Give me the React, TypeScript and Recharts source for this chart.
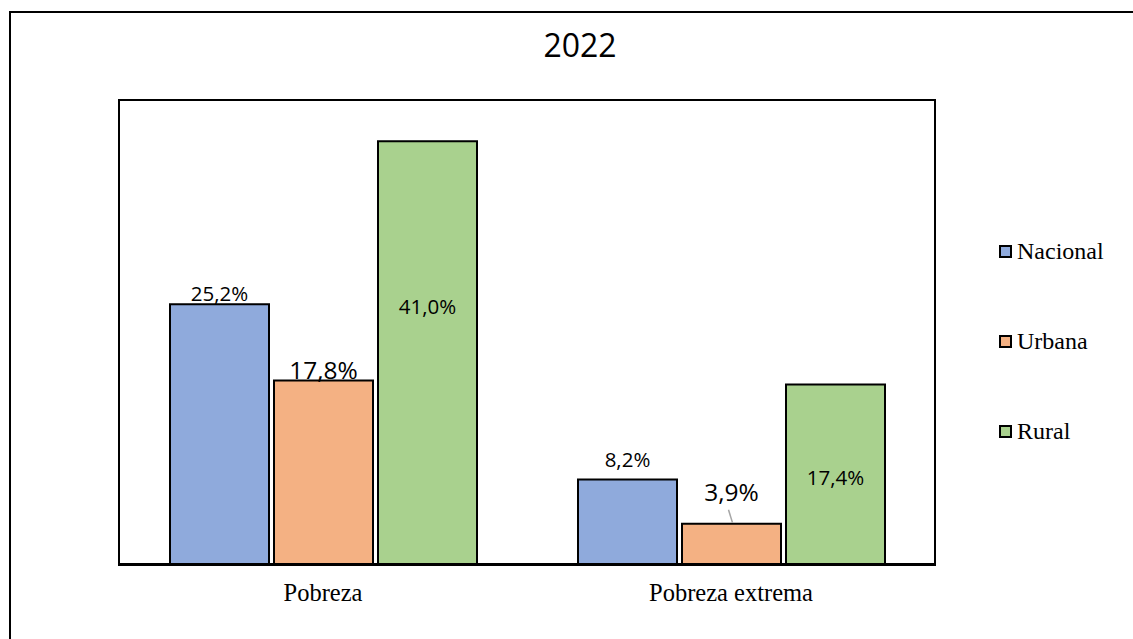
import { BarChart, Bar, XAxis, YAxis, LabelList } from "recharts";

// categories and series values (%)
const categories = ["Pobreza", "Pobreza extrema"];
const nacional = [25.2, 8.2];
const urbana = [17.8, 3.9];
const rural = [41.0, 17.4];

const rows = categories.map((name, i) => ({
  name,
  Nacional: nacional[i],
  Urbana: urbana[i],
  Rural: rural[i],
}));

const series = [
  { key: "Nacional", color: "#8faadc" },
  { key: "Urbana", color: "#f4b183" },
  { key: "Rural", color: "#a9d18e" },
];

const fmt = (v: number) => v.toFixed(1).replace(".", ",") + "%";

// label placement (centre of text relative to bar top) per series / category
const labelDy: Record<string, number[]> = {
  Nacional: [-11, -20],
  Urbana: [-11, -32],
  Rural: [165, 92],
};
const labelSize: Record<string, number> = { Nacional: 20.5, Urbana: 24.5, Rural: 20.5 };

const makeLabel = (key: string) => (props: any) => {
  const { x, y, width, value, index } = props;
  const cx = Number(x) + Number(width) / 2;
  const top = Number(y);
  const cy = top + labelDy[key][index];
  return (
    <g>
      {key === "Urbana" && index === 1 && (
        <line x1={cx - 3} y1={top - 14} x2={cx + 1} y2={top - 1} stroke="#a6a6a6" strokeWidth={1.5} />
      )}
      <text
        x={cx}
        y={cy}
        textAnchor="middle"
        dominantBaseline="central"
        fontFamily="'Open Sans', sans-serif"
        fontSize={labelSize[key]}
        fill="#000"
      >
        {fmt(Number(value))}
      </text>
    </g>
  );
};

const CategoryTick = (props: any) => {
  const { x, y, payload } = props;
  return (
    <text
      x={x}
      y={y + 20}
      textAnchor="middle"
      dominantBaseline="central"
      fontFamily="'Liberation Serif', serif"
      fontSize={24.5}
      fill="#000"
    >
      {payload.value}
    </text>
  );
};

const LegendBox = () => (
  <div
    style={{
      position: "absolute",
      left: 999,
      top: 206,
      width: 134,
      fontFamily: "'Liberation Serif', serif",
      fontSize: 24,
      color: "#000",
    }}
  >
    {series.map((s) => (
      <div key={s.key} style={{ display: "flex", alignItems: "center", height: 90 }}>
        <span
          style={{
            display: "inline-block",
            width: 13,
            height: 13,
            boxSizing: "border-box",
            border: "2px solid #000",
            background: s.color,
            marginRight: 5,
          }}
        />
        <span>{s.key}</span>
      </div>
    ))}
  </div>
);

export default function App() {
  return (
    <div
      style={{
        position: "absolute",
        left: 0,
        top: 0,
        width: 1133,
        height: 639,
        overflow: "hidden",
        background: "#fff",
      }}
    >
      <div
        style={{
          position: "absolute",
          left: 9,
          top: 11,
          width: 2000,
          height: 2000,
          borderLeft: "2px solid #000",
          borderTop: "2px solid #000",
        }}
      />
      <div
        style={{
          position: "absolute",
          left: 0,
          top: 45,
          width: 1160,
          textAlign: "center",
          fontFamily: "'Open Sans', sans-serif",
          fontSize: 32,
          lineHeight: "0px",
          color: "#000",
        }}
      >
        2022
      </div>
      <div style={{ position: "absolute", left: 0, top: 0 }}>
        <BarChart
          width={1133}
          height={639}
          data={rows}
          margin={{ top: 100, left: 119, right: 198, bottom: 35 }}
          barSize={99}
          barGap={5}
        >
          <XAxis
            dataKey="name"
            height={40}
            axisLine={{ stroke: "#000", strokeWidth: 2 }}
            tickLine={false}
            tick={<CategoryTick />}
            interval={0}
          />
          <YAxis hide domain={[0, 45]} />
          {series.map((s) => (
            <Bar
              key={s.key}
              dataKey={s.key}
              fill={s.color}
              stroke="#000"
              strokeWidth={2}
              isAnimationActive={false}
            >
              <LabelList dataKey={s.key} content={makeLabel(s.key)} />
            </Bar>
          ))}
        </BarChart>
      </div>
      <LegendBox />
      <div
        style={{
          position: "absolute",
          left: 118,
          top: 99,
          width: 818,
          height: 467,
          boxSizing: "border-box",
          border: "2px solid #000",
          pointerEvents: "none",
        }}
      />
    </div>
  );
}
